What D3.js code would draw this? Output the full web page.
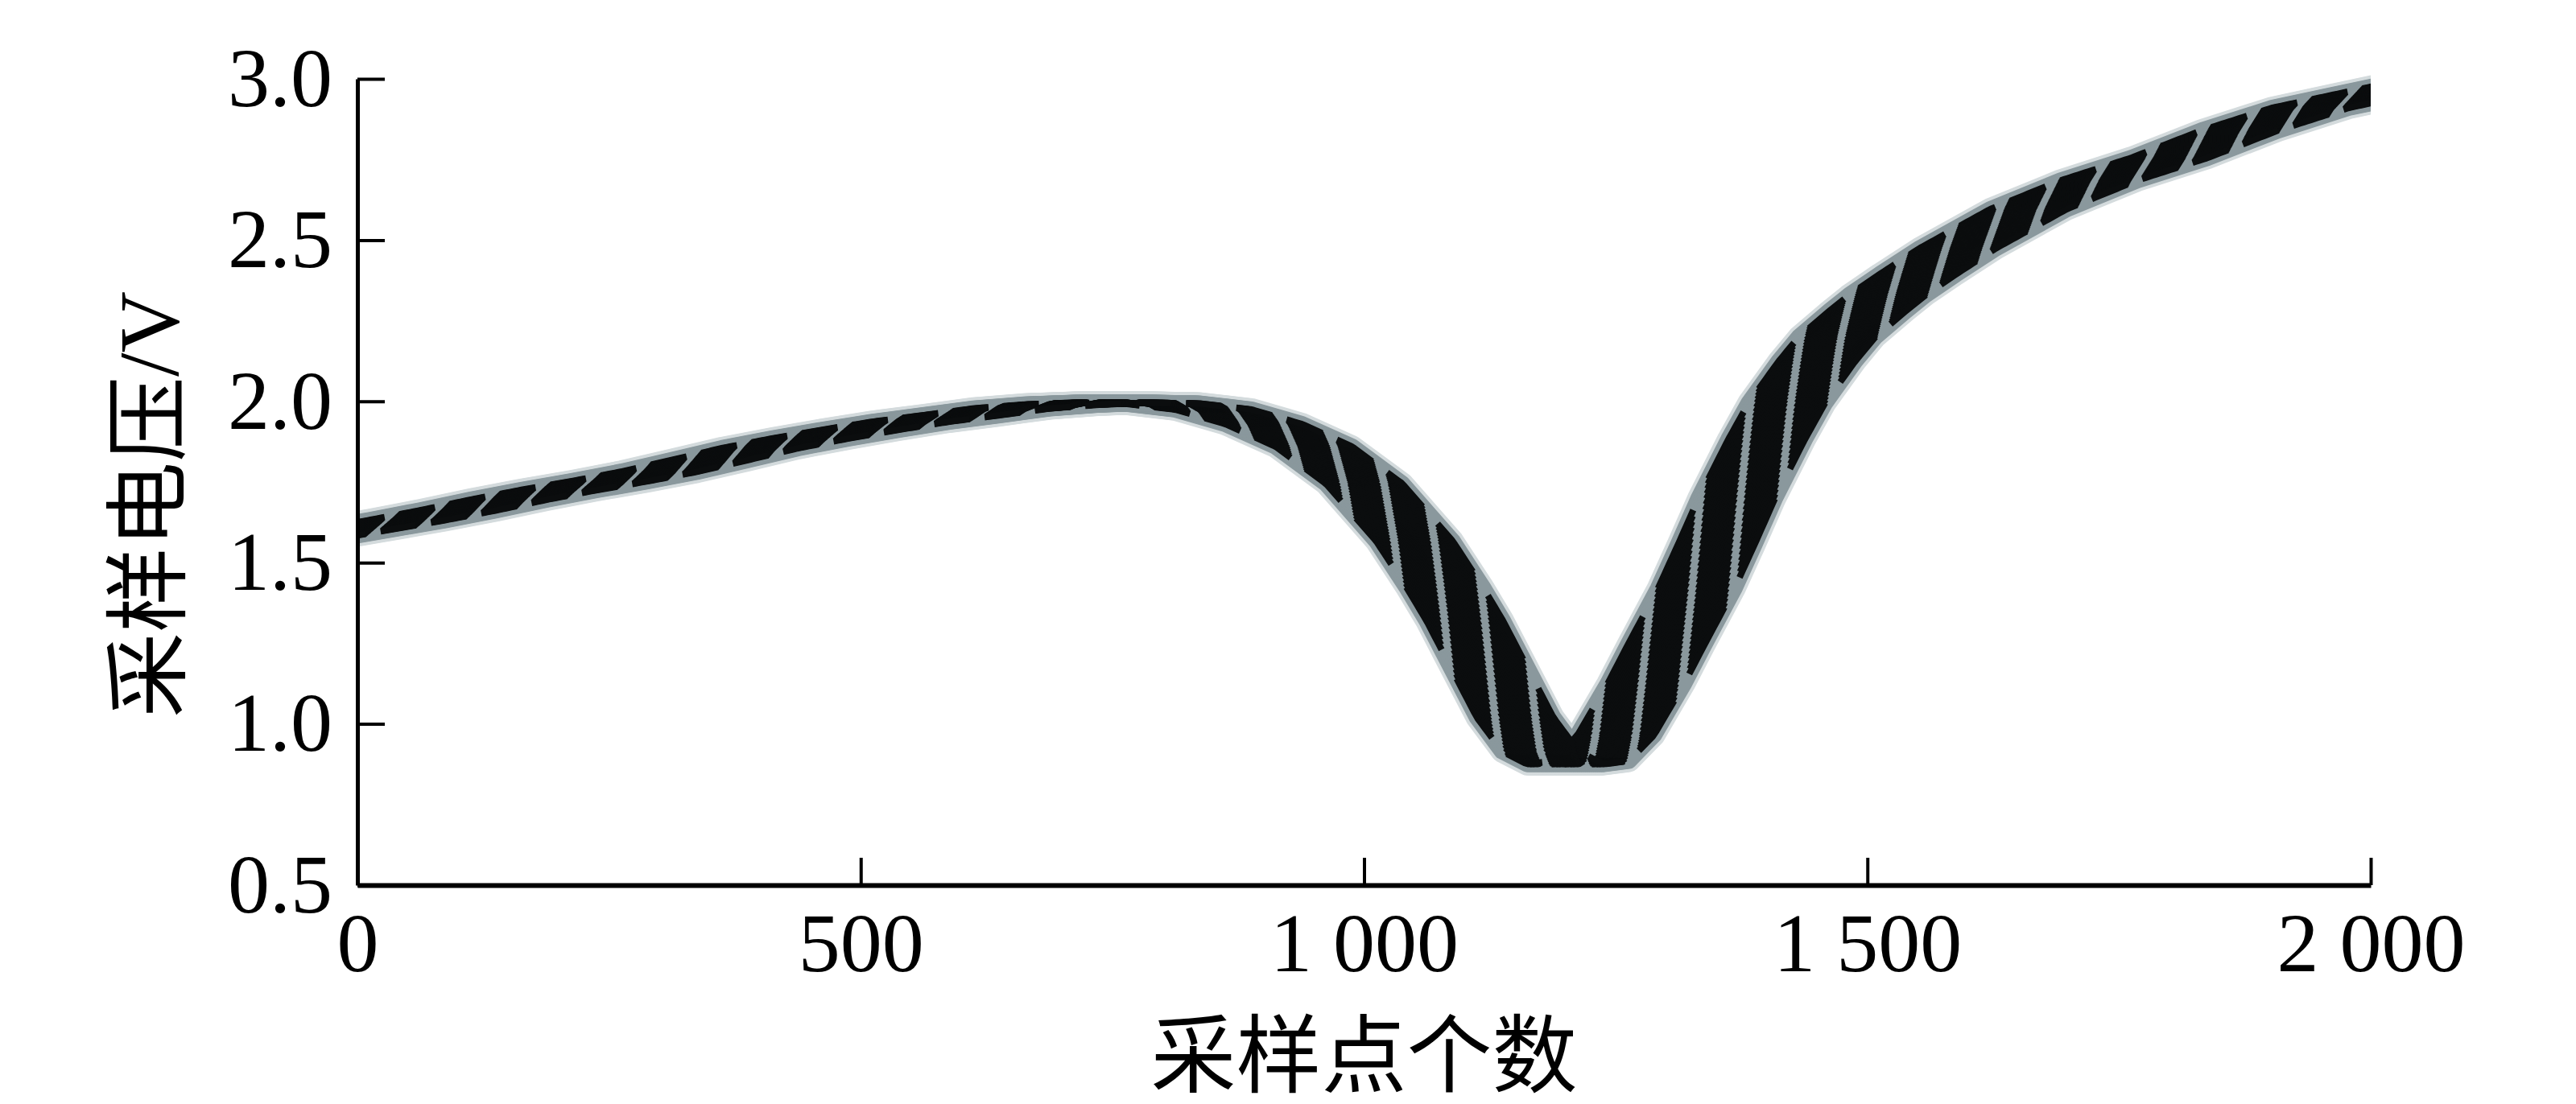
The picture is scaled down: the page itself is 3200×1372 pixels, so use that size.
<!DOCTYPE html>
<html>
<head>
<meta charset="utf-8">
<script src="https://cdn.jsdelivr.net/npm/d3@7"></script>
<style>
html, body { margin: 0; padding: 0; background: #ffffff; }
svg { display: block; }
</style>
</head>
<body>
<svg id="chart" width="3200" height="1372"></svg>
<script>
// ---- data ----
const samplePoints = [0, 50, 100, 150, 200, 250, 300, 350, 400, 450, 500, 550, 600, 650, 700, 750, 800, 850, 900, 950,
  1000, 1050, 1080, 1100, 1120, 1150, 1175, 1200, 1225, 1250, 1280, 1300, 1330, 1350, 1370, 1400, 1420, 1450, 1470,
  1500, 1520, 1550, 1590, 1660, 1730, 1800, 1870, 1940, 2000];
const voltages = [1.605, 1.632, 1.662, 1.695, 1.725, 1.752, 1.782, 1.818, 1.855, 1.885, 1.912, 1.937, 1.957, 1.978, 1.990, 1.996, 1.993, 1.975, 1.930, 1.860,
  1.745, 1.567, 1.424, 1.320, 1.200, 1.020, 0.915, 0.875, 0.885, 0.965, 1.125, 1.245, 1.420, 1.557, 1.698, 1.883, 1.995, 2.125, 2.200,
  2.280, 2.330, 2.394, 2.475, 2.596, 2.685, 2.755, 2.840, 2.910, 2.950];
const xTicks = [0, 500, 1000, 1500, 2000];
const xTickLabels = ["0", "500", "1 000", "1 500", "2 000"];
const yTicks = [0.5, 1.0, 1.5, 2.0, 2.5, 3.0];
const yTickLabels = ["0.5", "1.0", "1.5", "2.0", "2.5", "3.0"];
const xTitle = "采样点个数";
const yTitle = "采样电压/V";

// ---- layout ----
const svg = d3.select("#chart");
const x = d3.scaleLinear().domain([0, 2000]).range([444, 2945]);
const y = d3.scaleLinear().domain([0.5, 3.0]).range([1100, 98]);
const trend = d3.scaleLinear().domain(samplePoints).range(voltages);

svg.append("defs").append("clipPath").attr("id", "plotClip")
  .append("rect").attr("x", x(0)).attr("y", 0).attr("width", x(2000) - x(0)).attr("height", 1372);

// ---- striped band: the signal swept sideways (sampling jitter), cut into slanted stripes ----
const jitter = 38;      // half-width of the sideways sweep, in samples
const period = 50;      // stripe period, in samples
const tilt = 1.25;      // stripe slant factor
const fill = 0.7;       // black share of each stripe period
const step = 2.0;       // sweep step, in samples
const offsets = d3.range(-jitter, jitter + 0.001, step);
const line = d3.line().x(d => x(d[0])).y(d => y(d[1]));

// full band underlay (halo)
const fullX = [-80].concat(samplePoints, [2080]);
const copies = offsets.map(dl => fullX.map(X => [X + dl, trend(X)]));

// black stripe pieces
const stripeCenters = d3.range(-3, 45).map(k => k * period);
const pieces = [];
stripeCenters.forEach(c => {
  offsets.forEach(dl => {
    const x0 = c - tilt * dl - fill * period / 2;
    pieces.push(d3.range(0, 11).map(i => {
      const X = x0 + i / 10 * fill * period;
      return [X + dl, trend(X)];
    }));
  });
});

const band = svg.append("g").attr("clip-path", "url(#plotClip)");
const strokeW = 8;
band.append("g").selectAll("path").data(copies).join("path")
  .attr("d", line).attr("fill", "none")
  .attr("stroke", "#d4dbdd").attr("stroke-width", strokeW + 20)
  .attr("stroke-linejoin", "round").attr("stroke-linecap", "round");
band.append("g").selectAll("path").data(copies).join("path")
  .attr("d", line).attr("fill", "none")
  .attr("stroke", "#8a989d").attr("stroke-width", strokeW + 12)
  .attr("stroke-linejoin", "round").attr("stroke-linecap", "round");
band.append("g").selectAll("path").data(pieces).join("path")
  .attr("d", line).attr("fill", "none")
  .attr("stroke", "#0b0d0e").attr("stroke-width", strokeW)
  .attr("stroke-linejoin", "round").attr("stroke-linecap", "butt");

// ---- axes ----
const yAxis = d3.axisLeft(y).tickValues(yTicks).tickFormat((d, i) => yTickLabels[i])
  .tickSizeInner(-34).tickSizeOuter(0).tickPadding(31);
const gy = svg.append("g").attr("transform", `translate(${x(0)},0)`).call(yAxis);
gy.select(".domain").attr("stroke", "#000").attr("stroke-width", 5);
gy.selectAll(".tick line").attr("stroke", "#000").attr("stroke-width", 4);
gy.selectAll(".tick text").attr("font-family", "'Liberation Serif', 'Times New Roman', serif")
  .attr("font-size", 104).attr("fill", "#000");

const xAxis = d3.axisBottom(x).tickValues(xTicks).tickFormat((d, i) => xTickLabels[i])
  .tickSizeInner(-34).tickSizeOuter(0).tickPadding(33);
const gx = svg.append("g").attr("transform", `translate(0,${y(0.5)})`).call(xAxis);
gx.select(".domain").attr("stroke", "#000").attr("stroke-width", 6);
gx.selectAll(".tick line").attr("stroke", "#000").attr("stroke-width", 4);
gx.selectAll(".tick text").attr("font-family", "'Liberation Serif', 'Times New Roman', serif")
  .attr("font-size", 104).attr("fill", "#000");
gy.attr("font-family", null).attr("font-size", null);
gx.attr("font-family", null).attr("font-size", null);

// ---- titles ----
svg.append("text")
  .attr("x", (x(0) + x(2000)) / 2).attr("y", 1313)
  .attr("text-anchor", "middle").attr("dominant-baseline", "central")
  .attr("font-family", "'Liberation Serif', 'Noto Sans CJK SC', serif")
  .attr("font-size", 106).attr("fill", "#000")
  .text(xTitle);

svg.append("text")
  .attr("transform", "translate(185,627) rotate(-90)")
  .attr("text-anchor", "middle").attr("dominant-baseline", "central")
  .attr("font-family", "'Liberation Serif', 'Noto Sans CJK SC', serif")
  .attr("font-size", 106).attr("fill", "#000")
  .text(yTitle);
</script>
</body>
</html>
